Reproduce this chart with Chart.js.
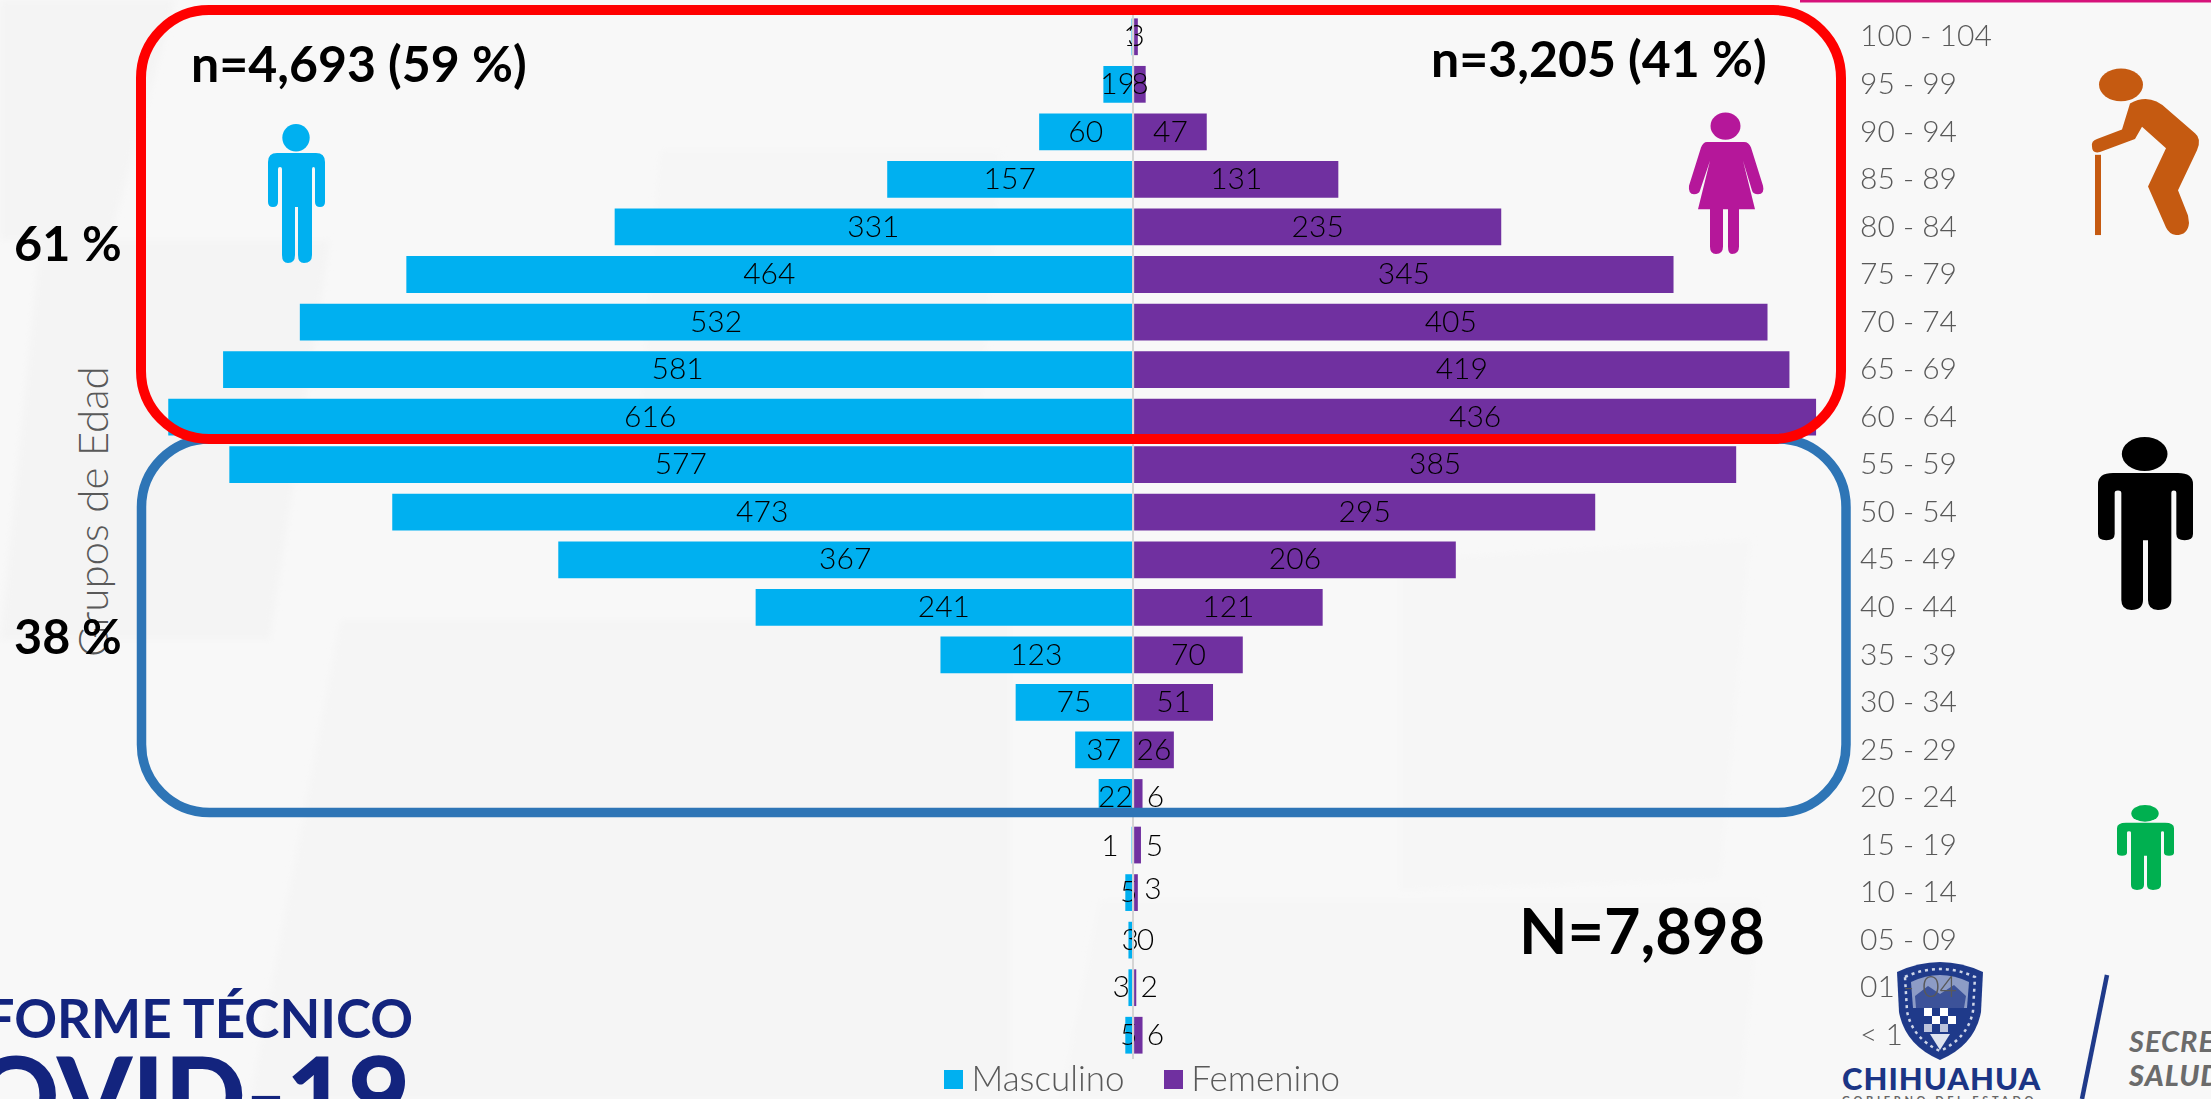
<!DOCTYPE html>
<html lang="es"><head><meta charset="utf-8">
<style>
html,body{margin:0;padding:0;width:2211px;height:1099px;overflow:hidden;background:#f8f8f8;font-family:Lato,sans-serif}
.l{position:absolute;left:0;top:0}
#wrap{position:absolute;left:0;top:0;width:2178px;height:1107px}
.t{position:absolute;white-space:nowrap;line-height:1}
.b{font-weight:700;color:#000}
</style></head><body>
<svg class="l" width="2211" height="1099" viewBox="0 0 2211 1099">
 <defs><filter id="sf"><feGaussianBlur stdDeviation="3"/></filter></defs>
 <g filter="url(#sf)">
 <polygon points="0,0 175,0 110,240 0,240" fill="#f4f4f4"/>
 <polygon points="40,240 330,240 270,640 0,640" fill="#f4f4f4"/>
 <polygon points="340,620 1010,620 1010,1099 250,1099" fill="#f5f5f5"/>
 <polygon points="1100,900 1760,900 1740,1099 1060,1099" fill="#f6f6f6"/>
 <polygon points="1400,560 1750,540 1720,880 1400,890" fill="#f6f6f6"/>
 <polygon points="660,150 1000,150 980,420 640,420" fill="#f6f6f6"/>
 </g>
 <path d="M1897,972 Q1940,952 1983,972 L1981,1012 Q1975,1045 1940,1060 Q1905,1045 1899,1012 Z" fill="#1f3a8a"/>
 <path d="M1905,977 Q1940,961 1975,977 L1973,1011 Q1968,1038 1940,1051 Q1912,1038 1907,1011 Z" fill="none" stroke="#cfd6e8" stroke-width="2.5" stroke-dasharray="3 4"/>
 <path d="M1911,982 Q1940,968 1969,982 L1967,1008 L1913,1008 Z" fill="#8d9cc6"/>
 <path d="M1915,996 L1928,986 L1940,994 L1954,985 L1966,996 L1964,1008 L1916,1008 Z" fill="#3c5299"/>
 <g fill="#fff">
  <rect x="1924" y="1008" width="8" height="8"/><rect x="1940" y="1008" width="8" height="8"/>
  <rect x="1932" y="1016" width="8" height="8"/><rect x="1948" y="1016" width="8" height="8"/>
  <rect x="1924" y="1024" width="8" height="8" opacity=".7"/><rect x="1940" y="1024" width="8" height="8" opacity=".7"/>
 </g>
 <path d="M1930,1034 H1950 L1940,1050 Z" fill="#dfe4f0"/>
 <path d="M2107,975 L2082,1099" stroke="#1f3a8a" stroke-width="4.500" fill="none"/>
</svg>
<div class="t" style="left:1842px;top:1059px;font:900 31px Lato;letter-spacing:1px;color:#1b3585" id="chi">CHIHUAHUA</div>
<div class="t" style="left:1842px;top:1093px;font:700 11px Lato;letter-spacing:3.6px;color:#666">GOBIERNO DEL ESTADO</div>
<div class="t" style="left:2129px;top:1023px;font:italic 700 29px Lato;letter-spacing:1px;color:#6b6b6b">SECRETARÍA</div>
<div class="t" style="left:2129px;top:1057px;font:italic 900 29px Lato;letter-spacing:1px;color:#6b6b6b">SALUD</div>
<div class="t" style="right:1798px;top:986px;font:700 53px Lato;color:#13247e">INFORME TÉCNICO</div>
<div class="t" style="right:1801px;top:1028px;font:900 107px Lato;color:#13247e">COVID-19</div>
<div class="t" style="left:67px;top:657px;font:300 42px Lato;color:#595959;transform-origin:0 0;transform:rotate(-90deg)">Grupos de Edad</div>
<div id="wrap"><canvas id="c" width="2178" height="1107"></canvas></div>
<svg class="l" width="2211" height="1099" viewBox="0 0 2211 1099">
 <defs>
  <symbol id="man" viewBox="268 124 57 139" preserveAspectRatio="none">
   <ellipse cx="296" cy="137.7" rx="13.7" ry="13.7"/>
   <path d="M277,153 H316 Q325,153 325,162 V202 Q325,207 320,207 Q315,207 315,202 V169 Q315,167 313.500,167 Q312,167 312,169 V255 Q312,263 304,263 Q298,263 298,255 V207 H295 V255 Q295,263 288,263 Q282,263 282,255 V169 Q282,167 280,167 Q278,167 278,169 V202 Q278,207 273,207 Q268,207 268,202 V162 Q268,153 277,153 Z"/>
  </symbol>
 </defs>
 <rect x="141.5" y="439" width="1704.5" height="373.5" rx="68" fill="none" stroke="#2e75b6" stroke-width="9.500"/>
 <rect x="141" y="10" width="1700" height="429" rx="68" fill="none" stroke="#ff0000" stroke-width="10"/>
 <use href="#man" x="268" y="124" width="57" height="139" fill="#00b0f0"/>
 <use href="#man" x="2098" y="437" width="95" height="173" fill="#000"/>
 <use href="#man" x="2117" y="805" width="57" height="85" fill="#00b050"/>
 <g fill="#b5179a" transform="translate(0,0) scale(1,.934)">
  <ellipse cx="1725.5" cy="135" rx="15" ry="14.500"/>
  <path d="M1707,152 H1744 Q1749,152 1751,158 L1763,199 Q1765,208 1758,208 Q1753,208 1752,204 L1743,172 L1755,224 H1739 V264 Q1739,272 1732,272 Q1728,272 1728,264 V224 H1723 V264 Q1723,272 1716,272 Q1710,272 1710,264 V224 H1698 L1710,172 L1700,204 Q1699,208 1694,208 Q1688,208 1689,199 L1701,158 Q1703,152 1707,152 Z"/>
 </g>
 <g fill="#c55a11" transform="translate(0,-1) scale(1,.933)">
  <ellipse cx="2121" cy="92" rx="22" ry="17.500"/>
  <path d="M2130,112 Q2150,100 2167,118 L2195,144 Q2202,150 2197,162 L2178,205 L2188,232 L2189,240 Q2188,253 2176,253 Q2169,252 2166,245 L2148,201 L2166,160 L2142,137 L2135,150 L2100,164 Q2092,166 2092,158 Q2091,152 2097,150 L2122,140 Z"/>
  <rect x="2095" y="167" width="6" height="86"/>
 </g>
 <rect x="1800" y="0" width="411" height="2.500" fill="#d6127a"/>
</svg>
<div class="t b" style="left:191px;top:38px;font-size:50px" id="n1">n=4,693 (59 %)</div>
<div class="t b" style="left:1431px;top:33px;font-size:50px" id="n2">n=3,205 (41 %)</div>
<div class="t b" style="left:1519px;top:898px;font-size:63px" id="n3">N=7,898</div>
<div class="t b" style="left:14px;top:218px;font-size:48.5px">61 %</div>
<div class="t b" style="left:14px;top:611px;font-size:48.5px">38 %</div>
<script src="https://cdn.jsdelivr.net/npm/chart.js@4"></script>
<script>
const ageGroups=['100 - 104','95 - 99','90 - 94','85 - 89','80 - 84','75 - 79','70 - 74','65 - 69','60 - 64','55 - 59','50 - 54','45 - 49','40 - 44','35 - 39','30 - 34','25 - 29','20 - 24','15 - 19','10 - 14','05 - 09','01 - 04','< 1'];
const masculino=[1,19,60,157,331,464,532,581,616,577,473,367,241,123,75,37,22,1,5,3,3,5];
const femenino=[3,8,47,131,235,345,405,419,436,385,295,206,121,70,51,26,6,5,3,0,2,6];
const seriesNames=['Masculino','Femenino'];
const seriesColors=['#00b0f0','#7030a0'];
const labelNudges={'1:16':[17,0],'0:17':[-22,1],'1:17':[17,1],'1:18':[17,-3],'1:19':[17,0],'0:20':[-9,0],'1:20':[14,0],'1:21':[17,0]};
const FONT='Lato';
function swatch(col){const k=document.createElement('canvas');k.width=19;k.height=19;const g=k.getContext('2d');g.fillStyle=col;g.fillRect(0,0,19,19);return k;}
const centerLabels={id:'centerLabels',afterDatasetsDraw(ch){
  const g=ch.ctx;g.save();g.font=`300 30px ${FONT}`;g.fillStyle='#000';g.textAlign='center';g.textBaseline='middle';
  ch.data.datasets.forEach((d,i)=>{ch.getDatasetMeta(i).data.forEach((b,j)=>{
    const n=labelNudges[i+':'+j]||[0,0];
    g.fillText(String(Math.abs(d.data[j])),(b.x+b.base)/2+n[0],b.y+n[1]);
  });});g.restore();}};
new Chart(document.getElementById('c'),{type:'bar',plugins:[centerLabels],
 data:{labels:ageGroups,datasets:[
  {label:seriesNames[0],data:masculino.map(v=>-v),backgroundColor:seriesColors[0]},
  {label:seriesNames[1],data:femenino,backgroundColor:seriesColors[1]}]},
 options:{indexAxis:'y',responsive:false,animation:false,
  layout:{padding:{left:115,top:13,right:0,bottom:0}},
  datasets:{bar:{categoryPercentage:1,barPercentage:.773}},
  plugins:{tooltip:{enabled:false},
   legend:{position:'bottom',labels:{font:{family:FONT,weight:'300',size:35},color:'#595959',usePointStyle:true,pointStyleWidth:1,padding:3,
     generateLabels(ch){
       return Chart.defaults.plugins.legend.labels.generateLabels(ch).map((o,i)=>({...o,pointStyle:swatch(seriesColors[i]),text:i===0?o.text+'\u2003\u00a0\u00a0':o.text}));
     }}}},
  scales:{
   x:{stacked:true,min:-650,max:450,ticks:{display:false,stepSize:50},border:{display:false},
      grid:{z:1,drawTicks:false,lineWidth:2,color:c=>c.tick&&c.tick.value===0?'#d4d4d4':'rgba(0,0,0,0)'}},
   y:{stacked:true,position:'right',grid:{display:false},border:{display:false},
      afterFit(s){s.width=2178-1838;s.paddingTop=0;s.paddingBottom=0;},
      ticks:{color:'#595959',padding:14,font:{family:FONT,weight:'300',size:30},autoSkip:false}}
  }}});
</script>
</body></html>
